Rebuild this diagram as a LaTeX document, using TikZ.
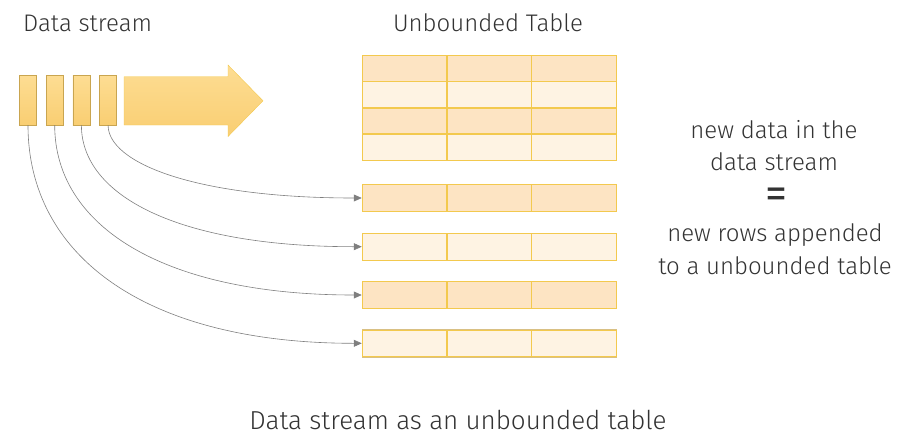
\documentclass[tikz,border=0pt]{standalone}
\usepackage{fontspec}
\setmainfont{Fira Sans Light}
\setsansfont{Fira Sans}
\usepackage{tikz}
\usetikzlibrary{positioning, arrows.meta, matrix}
\definecolor{boxline}{HTML}{C9A550}
\definecolor{boxtop}{HTML}{FDDD93}
\definecolor{boxbottom}{HTML}{F9CE72}
\definecolor{gridline}{HTML}{F3C94E}
\definecolor{rowdark}{HTML}{FDE4C3}
\definecolor{rowlight}{HTML}{FEF3E3}
\definecolor{linkgray}{HTML}{7F7F7F}
\definecolor{textgray}{HTML}{333333}
\tikzset{
    item/.style={rectangle, draw=boxline, top color=boxtop, bottom color=boxbottom, minimum width=17pt, minimum height=50pt, inner sep=0pt},
    grid/.style={
        matrix of nodes,
        nodes={
            draw=gridline,
            thick,
            minimum width=84.3pt,
            minimum height=25.8pt,
            anchor=center
        },
        column sep=-\pgflinewidth,
        row sep=-\pgflinewidth,
        draw=boxline!70,
        inner sep=0pt
    },
    link/.style={-{Triangle[length=8pt, width=7pt]}, draw=linkgray, line width=0.6pt},
    caption/.style={text=textgray, align=center, inner sep=0pt}
}
\begin{document}
\begin{tikzpicture}[x=1pt, y=-1pt]
    \useasboundingbox (0,0) rectangle (909,439);

    % Stream items
    \node[item] (s1) at (28,100) {};
    \node[item, right=9.3pt of s1] (s2) {};
    \node[item, right=9.3pt of s2] (s3) {};
    \node[item, right=9.3pt of s3] (s4) {};

    % Stream arrow
    \draw[draw=gridline, top color=boxtop, bottom color=boxbottom]
        (124,76.7) -- (228,76.7) -- (228,65) -- (263,100.8) -- (228,136.5) -- (228,125) -- (124,125) -- cycle;

    % Unbounded table
    \matrix[grid, row 1/.style={nodes={fill=rowdark}}, row 2/.style={nodes={fill=rowlight}},
        row 3/.style={nodes={fill=rowdark}}, row 4/.style={nodes={fill=rowlight}}] (T) at (489.2,107.7) {
        {} & {} & {} \\
        {} & {} & {} \\
        {} & {} & {} \\
        {} & {} & {} \\
    };

    % New rows
    \matrix[grid, nodes={fill=rowdark, minimum height=26.5pt}] (r1) at (489.2,198) { {} & {} & {} \\ };
    \matrix[grid, nodes={fill=rowlight, minimum height=26.5pt}] (r2) at (489.2,246.7) { {} & {} & {} \\ };
    \matrix[grid, nodes={fill=rowdark, minimum height=26.5pt}] (r3) at (489.2,295) { {} & {} & {} \\ };
    \matrix[grid, nodes={fill=rowlight, minimum height=26.5pt}] (r4) at (489.2,343.3) { {} & {} & {} \\ };

    % Connections
    \draw[link] (s4.south) to[out=-90, in=180, out distance=38pt, in distance=166pt] (r1.west);
    \draw[link] (s3.south) to[out=-90, in=180, out distance=70pt, in distance=185pt] (r2.west);
    \draw[link] (s2.south) to[out=-90, in=180, out distance=100pt, in distance=200pt] (r3.west);
    \draw[link] (s1.south) to[out=-90, in=180, out distance=130pt, in distance=217pt] (r4.west);

    % Labels
    \node[caption, font=\fontsize{24}{28}\selectfont, anchor=base west] (dslabel) at (23,31.7) {Data stream};
    \node[caption, font=\fontsize{24}{28}\selectfont, anchor=base] (tlabel) at (488,31.7) {Unbounded Table};
    \node[caption, font=\fontsize{24}{32.5}\selectfont] (eqtop) at (774,145.5) {new data in the\\data stream};
    \node[caption, font=\sffamily\fontsize{44}{44}\selectfont] (eq) at (776,198) {=};
    \node[caption, font=\fontsize{24}{33.3}\selectfont] (eqbot) at (775,249.5) {new rows appended\\to a unbounded table};
    \node[caption, font=\fontsize{26}{30}\selectfont, anchor=base] (title) at (458,429.5) {Data stream as an unbounded table};

\end{tikzpicture}
\end{document}
